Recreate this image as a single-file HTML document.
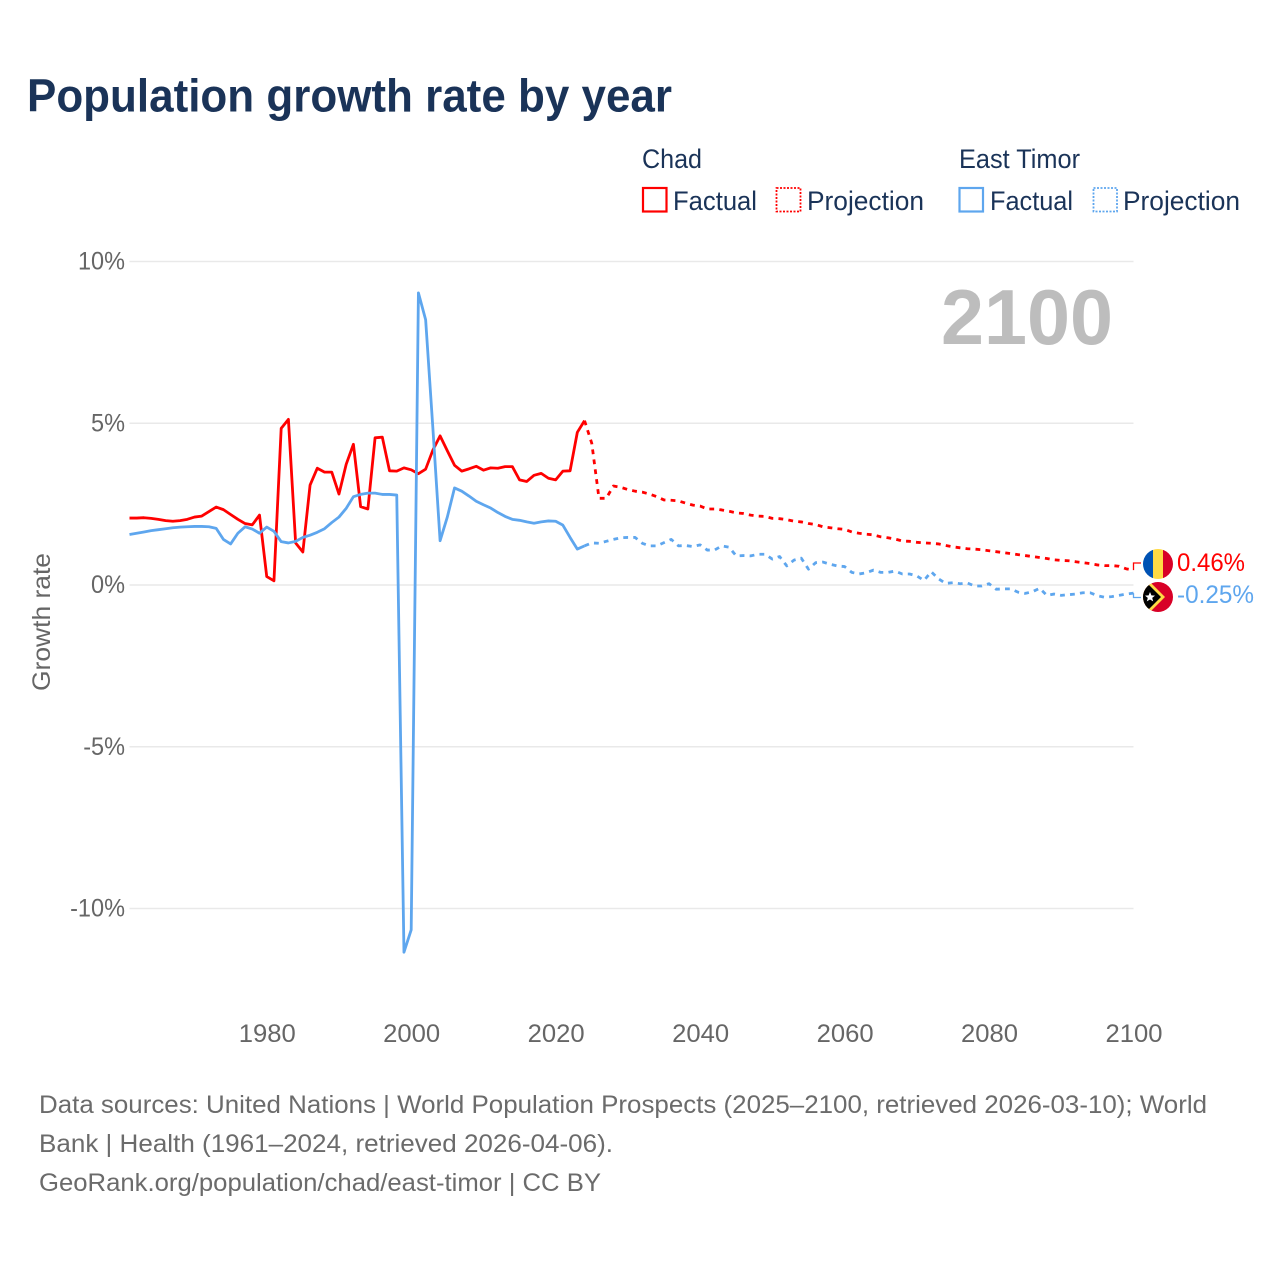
<!DOCTYPE html>
<html lang="en">
<head>
<meta charset="utf-8">
<title>Population growth rate by year</title>
<style>
html,body{margin:0;padding:0;background:#fff;}
svg{display:block;font-family:"Liberation Sans",sans-serif;}
</style>
</head>
<body>
<svg id="chart" xmlns="http://www.w3.org/2000/svg" width="1280" height="1280" viewBox="0 0 1280 1280">
  <rect x="0" y="0" width="1280" height="1280" fill="#ffffff"/>
  <text x="27" y="111.5" font-size="46" font-weight="700" fill="#1a3358" textLength="645" lengthAdjust="spacingAndGlyphs">Population growth rate by year</text>

  <g font-size="27" fill="#1a3358">
    <text x="642" y="168" textLength="60" lengthAdjust="spacingAndGlyphs">Chad</text>
    <text x="959" y="168" textLength="121" lengthAdjust="spacingAndGlyphs">East Timor</text>
    <g>
      <rect x="643" y="188" width="23.5" height="23.5" fill="none" stroke="#ff0000" stroke-width="2.2"/>
      <text x="673" y="210" textLength="84" lengthAdjust="spacingAndGlyphs">Factual</text>
    </g>
    <g>
      <rect x="776.5" y="188" width="24" height="23.5" fill="none" stroke="#ff0000" stroke-width="1.8" stroke-dasharray="2 1.5"/>
      <text x="807" y="210" textLength="117" lengthAdjust="spacingAndGlyphs">Projection</text>
    </g>
    <g>
      <rect x="959.5" y="188" width="23.5" height="23.5" fill="none" stroke="#5ea6ee" stroke-width="2.2"/>
      <text x="990" y="210" textLength="83" lengthAdjust="spacingAndGlyphs">Factual</text>
    </g>
    <g>
      <rect x="1093.5" y="188" width="23.5" height="23.5" fill="none" stroke="#5ea6ee" stroke-width="1.8" stroke-dasharray="2 1.5"/>
      <text x="1123" y="210" textLength="117" lengthAdjust="spacingAndGlyphs">Projection</text>
    </g>
  </g>

  <g id="grid"></g>
  <text x="941" y="344" font-size="78" font-weight="700" fill="#bdbdbd" textLength="172" lengthAdjust="spacingAndGlyphs">2100</text>
  <g id="yticks"></g>
  <g id="xticks"></g>
  <text transform="translate(50,691) rotate(-90)" font-size="25" fill="#666666" textLength="138" lengthAdjust="spacingAndGlyphs">Growth rate</text>
  <g id="series"></g>

  <g>
    <clipPath id="clip-chad"><circle cx="1158" cy="564" r="15"/></clipPath>
    <g clip-path="url(#clip-chad)">
      <rect x="1143" y="549" width="10" height="30" fill="#0052b4"/>
      <rect x="1153" y="549" width="10" height="30" fill="#ffda44"/>
      <rect x="1163" y="549" width="10" height="30" fill="#d80027"/>
    </g>
  </g>
  <g>
    <clipPath id="clip-timor"><circle cx="1158" cy="597" r="15"/></clipPath>
    <g clip-path="url(#clip-timor)">
      <rect x="1143" y="582" width="30" height="30" fill="#d80027"/>
      <polygon points="1141,580 1148,580 1165,597 1148,614 1141,614" fill="#ffda44"/>
      <polygon points="1141,582 1146,582 1161,597 1146,612 1141,612" fill="#000000"/>
      <polygon points="1150,592 1151.4,595.4 1155,595.6 1152.2,597.9 1153.2,601.4 1150,599.5 1146.8,601.4 1147.8,597.9 1145,595.6 1148.6,595.4" fill="#ffffff"/>
    </g>
  </g>
  <text x="1177" y="571" font-size="25" fill="#ff0000" textLength="68" lengthAdjust="spacingAndGlyphs">0.46%</text>
  <text x="1177" y="603" font-size="25" fill="#5ea6ee" textLength="77" lengthAdjust="spacingAndGlyphs">-0.25%</text>

  <g font-size="25" fill="#6b6b6b">
    <text x="39" y="1113" textLength="1168" lengthAdjust="spacingAndGlyphs">Data sources: United Nations | World Population Prospects (2025–2100, retrieved 2026-03-10); World</text>
    <text x="39" y="1152" textLength="574" lengthAdjust="spacingAndGlyphs">Bank | Health (1961–2024, retrieved 2026-04-06).</text>
    <text x="39" y="1191" textLength="562" lengthAdjust="spacingAndGlyphs">GeoRank.org/population/chad/east-timor | CC BY</text>
  </g>
</svg>
<script>
const firstYear = 1961;
const lastYear = 2100;
const projectionStartYear = 2024;
const yTickValues = [10, 5, 0, -5, -10];
const yTickLabels = ['10%', '5%', '0%', '-5%', '-10%'];
const xTickValues = [1980, 2000, 2020, 2040, 2060, 2080, 2100];
const xTickLabels = ['1980', '2000', '2020', '2040', '2060', '2080', '2100'];

// 1961–2024
const chadFactual = [2.07,2.07,2.08,2.06,2.03,1.99,1.97,1.99,2.03,2.10,2.13,2.27,2.41,2.33,2.18,2.03,1.90,1.86,2.16,0.26,0.13,4.84,5.12,1.30,1.02,3.09,3.61,3.49,3.49,2.81,3.73,4.35,2.42,2.35,4.55,4.57,3.53,3.52,3.62,3.56,3.44,3.58,4.17,4.61,4.15,3.70,3.52,3.59,3.67,3.55,3.62,3.61,3.66,3.66,3.25,3.20,3.39,3.45,3.30,3.25,3.52,3.53,4.72,5.08];
const timorFactual = [1.56,1.60,1.64,1.68,1.71,1.74,1.77,1.79,1.80,1.81,1.81,1.80,1.75,1.41,1.27,1.60,1.80,1.73,1.60,1.79,1.66,1.34,1.30,1.35,1.47,1.54,1.63,1.74,1.93,2.10,2.37,2.73,2.80,2.84,2.84,2.80,2.80,2.78,-11.35,-10.66,9.03,8.20,4.85,1.37,2.10,3.00,2.90,2.75,2.59,2.48,2.38,2.24,2.12,2.03,2.00,1.95,1.91,1.95,1.98,1.97,1.85,1.47,1.11,1.21];
// 2024–2100
const chadProjection = [5.08,4.38,2.68,2.68,3.06,3.02,2.95,2.90,2.87,2.81,2.73,2.63,2.62,2.60,2.53,2.47,2.44,2.35,2.35,2.32,2.28,2.23,2.21,2.16,2.13,2.12,2.06,2.05,2.02,1.97,1.95,1.90,1.87,1.80,1.77,1.74,1.72,1.64,1.60,1.57,1.55,1.49,1.46,1.42,1.36,1.35,1.32,1.30,1.29,1.27,1.22,1.18,1.15,1.12,1.11,1.09,1.06,1.03,1.00,0.97,0.94,0.91,0.88,0.85,0.82,0.78,0.76,0.75,0.72,0.69,0.66,0.62,0.60,0.60,0.58,0.50,0.46];
const timorProjection = [1.21,1.30,1.29,1.35,1.41,1.46,1.47,1.47,1.29,1.21,1.21,1.31,1.41,1.21,1.22,1.19,1.24,1.08,1.08,1.21,1.17,0.90,0.91,0.90,0.95,0.95,0.80,0.88,0.59,0.77,0.83,0.49,0.69,0.71,0.64,0.59,0.57,0.39,0.34,0.38,0.46,0.39,0.39,0.43,0.34,0.34,0.28,0.14,0.41,0.19,0.05,0.07,0.04,0.06,-0.03,-0.03,0.04,-0.13,-0.12,-0.12,-0.22,-0.26,-0.21,-0.10,-0.32,-0.28,-0.32,-0.30,-0.28,-0.24,-0.24,-0.33,-0.38,-0.36,-0.32,-0.28,-0.25];

const RED = '#ff0000';
const BLUE = '#5ea6ee';
const NS = 'http://www.w3.org/2000/svg';
const plotLeft = 129.5, plotRight = 1133.5, zeroY = 585, pxPerPercent = 32.35;

function xScale(year) { return plotLeft + (year - firstYear) * (plotRight - plotLeft) / (lastYear - firstYear); }
function yScale(value) { return zeroY - value * pxPerPercent; }
function pathFrom(values, startYear) {
  return values.map(function (v, i) {
    return (i ? 'L' : 'M') + xScale(startYear + i).toFixed(2) + ' ' + yScale(v).toFixed(2);
  }).join(' ');
}
function make(tag, attrs, text) {
  const el = document.createElementNS(NS, tag);
  Object.keys(attrs).forEach(function (k) { el.setAttribute(k, attrs[k]); });
  if (text !== undefined) el.textContent = text;
  return el;
}

const gridLayer = document.getElementById('grid');
const yTickLayer = document.getElementById('yticks');
const xTickLayer = document.getElementById('xticks');
const seriesLayer = document.getElementById('series');

yTickValues.forEach(function (v, i) {
  const line = make('line', { x1: plotLeft, x2: plotRight, y1: yScale(v), y2: yScale(v), stroke: '#e9e9e9', 'stroke-width': 1.5 });
  
  
  gridLayer.appendChild(line);
  const label = make('text', { x: 125, y: yScale(v) + 8, 'text-anchor': 'end', 'font-size': 25, fill: '#666666' }, yTickLabels[i]);
  
  
  yTickLayer.appendChild(label);
  label.setAttribute('textLength', (label.getComputedTextLength() * 0.94).toFixed(1));
  label.setAttribute('lengthAdjust', 'spacingAndGlyphs');
});

xTickValues.forEach(function (v, i) {
  const label = make('text', { x: xScale(v) + 0.5, y: 1042, 'text-anchor': 'middle', 'font-size': 25, fill: '#666666', textLength: 57, lengthAdjust: 'spacingAndGlyphs' }, xTickLabels[i]);
  
  
  xTickLayer.appendChild(label);
});

function drawSeries(values, startYear, color, dashed) {
  const attrs = { d: pathFrom(values, startYear), fill: 'none', stroke: color, 'stroke-width': 2.8, 'stroke-linejoin': 'round' };
  if (dashed) attrs['stroke-dasharray'] = '4.8 5.2';
  return make('path', attrs);
}

const chadFactualLine = drawSeries(chadFactual, firstYear, RED, false);


seriesLayer.appendChild(chadFactualLine);

const chadProjectionLine = drawSeries(chadProjection, projectionStartYear, RED, true);


seriesLayer.appendChild(chadProjectionLine);

const timorFactualLine = drawSeries(timorFactual, firstYear, BLUE, false);


seriesLayer.appendChild(timorFactualLine);

const timorProjectionLine = drawSeries(timorProjection, projectionStartYear, BLUE, true);


seriesLayer.appendChild(timorProjectionLine);

function drawLeader(lastValue, flagY, color) {
  const y = yScale(lastValue);
  return make('path', { d: 'M' + plotRight + ' ' + y + ' V' + flagY + ' H1141', fill: 'none', stroke: color, 'stroke-width': 1.3 });
}

const chadLeader = drawLeader(chadProjection[chadProjection.length - 1], 563, RED);


seriesLayer.appendChild(chadLeader);

const timorLeader = drawLeader(timorProjection[timorProjection.length - 1], 597.5, BLUE);


seriesLayer.appendChild(timorLeader);
</script>
</body>
</html>
